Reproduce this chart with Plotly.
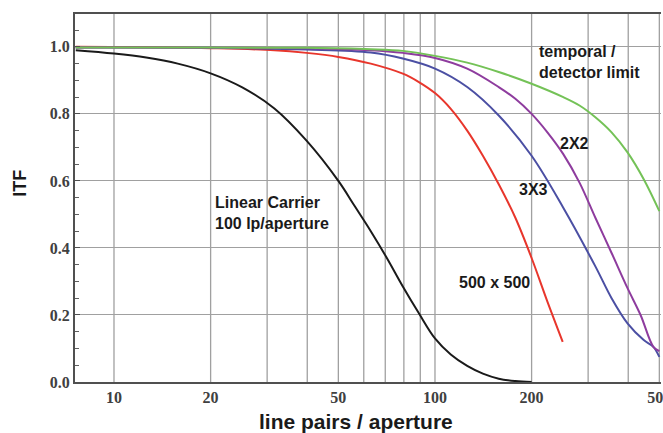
import plotly.graph_objects as go
import math

# ---- data ----
linear_f = [7.6, 10, 12.6, 15.8, 20, 25.1, 31.6, 39.8, 50, 56.2, 63.1, 70.8, 79.4, 89.1, 100, 112, 126, 141, 158, 178, 200]
linear_y = [0.99, 0.98, 0.968, 0.95, 0.921, 0.879, 0.816, 0.72, 0.60, 0.525, 0.45, 0.37, 0.285, 0.205, 0.13, 0.082, 0.048, 0.025, 0.01, 0.003, 0.0]

red_f = [7.6, 12.6, 20, 31.6, 39.8, 50, 63.1, 79.4, 89.1, 100, 112, 126, 141, 158, 178, 200, 224, 250]
red_y = [1.0, 0.999, 0.996, 0.99, 0.982, 0.97, 0.95, 0.92, 0.895, 0.862, 0.815, 0.75, 0.675, 0.59, 0.49, 0.37, 0.24, 0.12]

blue_f = [7.6, 20, 39.8, 63.1, 79.4, 100, 126, 158, 200, 251, 316, 355, 398, 447, 479, 500]
blue_y = [0.998, 0.997, 0.992, 0.983, 0.965, 0.935, 0.88, 0.795, 0.675, 0.52, 0.345, 0.25, 0.175, 0.125, 0.105, 0.075]

purple_f = [7.6, 20, 39.8, 63.1, 79.4, 100, 126, 158, 178, 200, 224, 251, 282, 316, 355, 398, 437, 479, 500]
purple_y = [0.998, 0.998, 0.996, 0.99, 0.982, 0.967, 0.935, 0.88, 0.845, 0.80, 0.745, 0.68, 0.595, 0.49, 0.385, 0.28, 0.20, 0.105, 0.092]

green_f = [7.6, 20, 39.8, 63.1, 79.4, 100, 126, 158, 200, 251, 282, 316, 355, 398, 447, 500]
green_y = [0.998, 0.998, 0.997, 0.993, 0.988, 0.973, 0.953, 0.925, 0.89, 0.85, 0.825, 0.79, 0.745, 0.685, 0.605, 0.51]

x_tickvals = [10, 20, 50, 100, 200, 500]
x_ticktext = ["10", "20", "50", "100", "200", "500"]
y_tickvals = [0.0, 0.2, 0.4, 0.6, 0.8, 1.0]
y_ticktext = ["0.0", "0.2", "0.4", "0.6", "0.8", "1.0"]
x_gridvals = [10, 20, 30, 40, 50, 60, 70, 80, 90, 100, 200, 300, 400, 500]

fig = go.Figure()

series = [
    (linear_f, linear_y, "#1a1a1a"),
    (red_f, red_y, "#e8362c"),
    (blue_f, blue_y, "#4b4fa3"),
    (purple_f, purple_y, "#8e3c9e"),
    (green_f, green_y, "#74c257"),
]

# vertical grid lines (log grid at 10..100, 200..500)
for gv in x_gridvals:
    fig.add_shape(type="line", xref="x", yref="paper", x0=gv, x1=gv, y0=0, y1=1,
                  line=dict(color="#a0a0a0", width=1.3), layer="below")

for fx, fy, col in series:
    fig.add_trace(go.Scatter(x=fx, y=fy, mode="lines",
                             line=dict(color=col, width=2, shape="spline", smoothing=1.0),
                             showlegend=False, hoverinfo="skip"))

ann_font = dict(family="Liberation Sans, Arial, sans-serif", size=16, color="#1a1a1a")
anns = [
    (1.308, 0.503, "<b>Linear Carrier<br>100 lp/aperture</b>"),
    (2.0685, 0.296, "<b>500 x 500</b>"),
    (2.2555, 0.573, "<b>3X3</b>"),
    (2.383, 0.713, "<b>2X2</b>"),
    (2.318, 0.955, "<b>temporal /<br>detector limit</b>"),
]
for ax_, ay_, txt in anns:
    fig.add_annotation(x=ax_, y=ay_, xref="x", yref="y", text=txt, showarrow=False,
                       xanchor="left", yanchor="middle", align="left", font=ann_font)

# axis titles
title_font = dict(family="Liberation Sans, Arial, sans-serif", size=21, color="#1a1a1a")
fig.add_annotation(x=0.4795, y=-0.106, xref="paper", yref="paper", text="<b>line pairs / aperture</b>",
                   showarrow=False, xanchor="center", yanchor="middle", font=title_font)
fig.add_annotation(x=-0.094, y=0.541, xref="paper", yref="paper", text="<b>ITF</b>", textangle=-90,
                   showarrow=False, xanchor="center", yanchor="middle",
                   font=dict(family="Liberation Sans, Arial, sans-serif", size=18, color="#1a1a1a"))

tick_font = dict(family="Liberation Serif, Times New Roman, serif", size=16, color="#404040")

fig.update_layout(
    width=663, height=433,
    margin=dict(l=75, r=2, t=14, b=51),
    paper_bgcolor="white", plot_bgcolor="white",
    xaxis=dict(
        type="log", automargin=False,
        range=[math.log10(7.56), math.log10(506)],
        tickvals=x_tickvals, ticktext=[f"<b>{t}</b>" for t in x_ticktext],
        tickfont=tick_font, ticklabeloverflow="allow",
        showgrid=False, zeroline=False,
        showline=True, linecolor="#505050", linewidth=2, mirror=True,
        ticks="", ticklen=0,
    ),
    yaxis=dict(
        automargin=False,
        range=[0, 1.098],
        tickvals=y_tickvals, ticktext=[f"<b>{t}</b>" for t in y_ticktext],
        tickfont=tick_font,
        showgrid=True, gridcolor="#a0a0a0", gridwidth=1.3,
        zeroline=False,
        showline=True, linecolor="#505050", linewidth=2,
        ticks="inside", ticklen=5, tickcolor="#505050",
        minor=dict(dtick=0.05, ticks="inside", ticklen=4, tickcolor="#606060", showgrid=False),
    ),
)

# remove the browser's default 8px body margin so the figure fills the 663x433 window
fig.write_html("out.html", config={"displayModeBar": False},
               post_script="document.body.style.margin='0px';document.body.style.overflow='hidden';")
